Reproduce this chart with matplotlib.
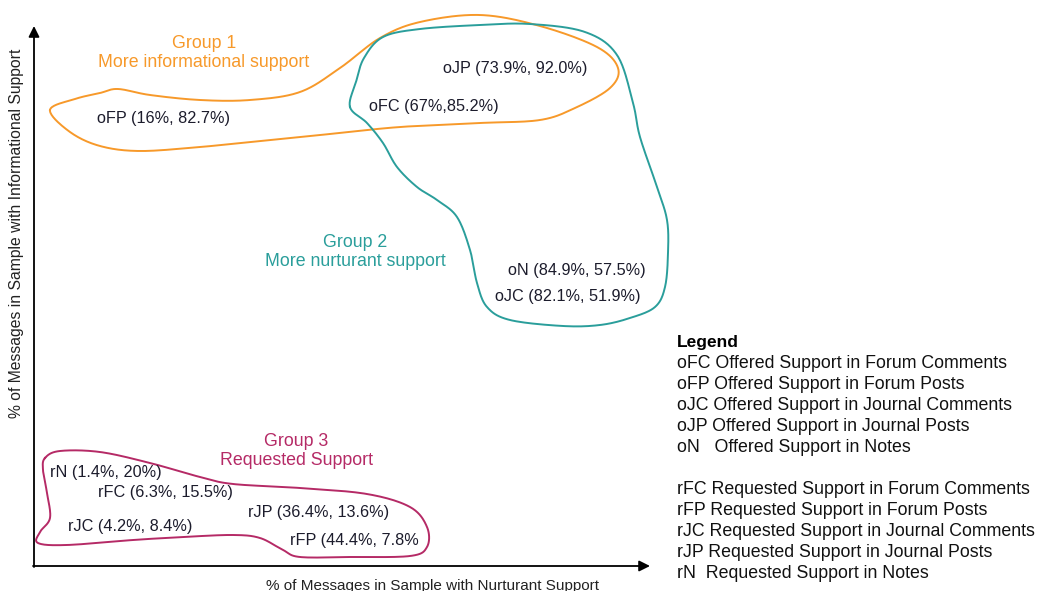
import matplotlib.pyplot as plt
import numpy as np

# Data: (nurturant %, informational %) per message type
codes = ['oFP', 'oJP', 'oFC', 'oN', 'oJC', 'rN', 'rFC', 'rJP', 'rJC', 'rFP']
nurturant = [16, 73.9, 67, 84.9, 82.1, 1.4, 6.3, 36.4, 4.2, 44.4]
informational = [82.7, 92.0, 85.2, 57.5, 51.9, 20, 15.5, 13.6, 8.4, 7.8]
point_labels = ['oFP (16%, 82.7%)', 'oJP (73.9%, 92.0%)', 'oFC (67%,85.2%)',
                'oN (84.9%, 57.5%)', 'oJC (82.1%, 51.9%)', 'rN (1.4%, 20%)',
                'rFC (6.3%, 15.5%)', 'rJP (36.4%, 13.6%)', 'rJC (4.2%, 8.4%)',
                'rFP (44.4%, 7.8%']

group_titles = ['Group 1\nMore informational support',
                'Group 2\nMore nurturant support',
                'Group 3\nRequested Support']

legend_lines = ['oFC Offered Support in Forum Comments',
                'oFP Offered Support in Forum Posts',
                'oJC Offered Support in Journal Comments',
                'oJP Offered Support in Journal Posts',
                'oN   Offered Support in Notes',
                '',
                'rFC Requested Support in Forum Comments',
                'rFP Requested Support in Forum Posts',
                'rJC Requested Support in Journal Comments',
                'rJP Requested Support in Journal Posts',
                'rN  Requested Support in Notes']

# Layout (hand-placed like the original diagram, in pixels)
label_pos = [(97, 118), (443, 68), (369, 107), (508, 271), (495, 297),
             (50, 473), (98, 492), (248, 512), (68, 527), (290, 541)]
title_pos = [(204, 53), (355, 252), (296, 451)]
colors = ['#f7992a', '#2a9e9b', '#b52a66']

outlines = [
    [(50, 110), (75, 99), (100, 93), (118, 89), (150, 95), (200, 100),
     (250, 100), (300, 92), (340, 68), (380, 38), (420, 22), (480, 15),
     (540, 26), (597, 47), (618, 68), (610, 88), (575, 108), (540, 120),
     (480, 123), (400, 127), (330, 134), (250, 142), (200, 147),
     (140, 151), (100, 146), (70, 132)],
    [(350, 107), (356, 82), (364, 58), (383, 37), (420, 29), (480, 25),
     (530, 24), (585, 32), (617, 55), (633, 103), (640, 137), (657, 187),
     (667, 220), (668, 253), (665, 287), (655, 307), (630, 318),
     (600, 325), (563, 326), (510, 320), (487, 307), (477, 283),
     (470, 250), (457, 217), (437, 200), (417, 187), (397, 167),
     (383, 143), (367, 123)],
    [(45, 458), (60, 451), (100, 452), (150, 463), (200, 477), (233, 484),
     (300, 488), (367, 494), (410, 507), (427, 527), (427, 547),
     (410, 556), (350, 557), (300, 557), (283, 550), (260, 538),
     (233, 535), (183, 537), (133, 540), (67, 545), (38, 543), (40, 532),
     (50, 518), (47, 493), (43, 470)],
]


def closed_spline(pts, n=20):
    p = np.array(pts, dtype=float)
    out = []
    k = len(p)
    t = np.linspace(0, 1, n, endpoint=False)[:, None]
    for i in range(k):
        p0, p1, p2, p3 = p[i - 1], p[i], p[(i + 1) % k], p[(i + 2) % k]
        seg = 0.5 * ((2 * p1) + (-p0 + p2) * t
                     + (2 * p0 - 5 * p1 + 4 * p2 - p3) * t ** 2
                     + (-p0 + 3 * p1 - 3 * p2 + p3) * t ** 3)
        out.append(seg)
    out = np.vstack(out)
    return np.vstack([out, out[:1]])


plt.rcParams['font.family'] = ['Liberation Sans', 'DejaVu Sans']

fig = plt.figure(figsize=(10.42, 5.91), dpi=100, facecolor='w')
ax = fig.add_axes([0, 0, 1, 1])
ax.set_xlim(0, 1042)
ax.set_ylim(591, 0)
ax.axis('off')

# Axes arrows
ax.annotate('', xy=(34, 26), xytext=(34, 567),
            arrowprops=dict(arrowstyle='-|>', color='k', lw=1.3,
                            mutation_scale=16, shrinkA=0, shrinkB=0))
ax.annotate('', xy=(650, 566), xytext=(33, 566),
            arrowprops=dict(arrowstyle='-|>', color='k', lw=1.3,
                            mutation_scale=16, shrinkA=0, shrinkB=0))
ax.text(432, 586, '% of Messages in Sample with Nurturant Support',
        ha='center', va='center', fontsize=11, color='#222222')
ax.text(17, 233, '% of Messages in Sample with Informational Support',
        ha='center', va='center', rotation=90, fontsize=11.3,
        color='#222222')

# Group outlines
for pts, col in zip(outlines, colors):
    c = closed_spline(pts)
    ax.plot(c[:, 0], c[:, 1], color=col, lw=1.4)

for title, (x, y), col in zip(group_titles, title_pos, colors):
    ax.text(x, y, title, ha='center', va='center', fontsize=12.8, color=col,
            linespacing=1.2)

for lab, (x, y) in zip(point_labels, label_pos):
    ax.text(x, y, lab, ha='left', va='center', fontsize=11.7,
            color='#1c1c2c')

# Legend block
ax.text(677, 342, 'Legend', ha='left', va='center', fontsize=12.5,
        fontweight='bold', color='k')
for i, line in enumerate(legend_lines):
    ax.text(677, 363 + i * 21.1, line, ha='left', va='center',
            fontsize=12.8, color='#111111')

fig.savefig('out.png', dpi=100, facecolor='w')
